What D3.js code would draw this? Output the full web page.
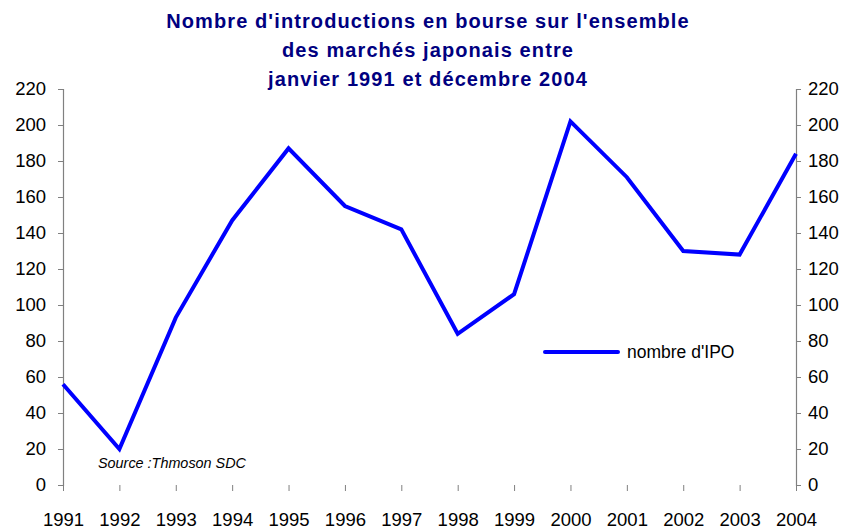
<!DOCTYPE html>
<html>
<head>
    <meta charset="utf-8">
    <title>Introductions en bourse - marchés japonais</title>
    <script src="https://d3js.org/d3.v7.min.js"></script>
</head>
<style>
    body {
        margin: 0;
        background: #fff;
    }

    text {
        font-family: "Liberation Sans", Arial, sans-serif;
    }
</style>
<body>
    <svg class='chart'></svg>
</body>
<script>
    // years on the x axis
    var YEARS = ["1991", "1992", "1993", "1994", "1995", "1996", "1997",
        "1998", "1999", "2000", "2001", "2002", "2003", "2004"
    ]
    // number of IPOs per year
    var IPOS = [56, 20, 93, 147, 187, 155, 142, 84, 106, 202, 171, 130, 128, 184]
    var Y_TICKS = [0, 20, 40, 60, 80, 100, 120, 140, 160, 180, 200, 220]
    var TITLE = ["Nombre d'introductions en bourse sur l'ensemble",
        "des marchés japonais entre",
        "janvier 1991 et décembre 2004"
    ]
    var SERIES_NAME = "nombre d'IPO"
    var SOURCE = "Source :Thmoson SDC"

    var width = 849
    var height = 529
    var margin = {
        top: 89,
        right: 53,
        bottom: 44,
        left: 63
    }

    var svg = d3.select('.chart')
        .attr('width', width)
        .attr('height', height)

    var x = d3.scalePoint()
        .domain(YEARS)
        .range([margin.left, width - margin.right])
    var y = d3.scaleLinear()
        .domain([0, 220])
        .range([height - margin.bottom, margin.top])

    // title
    svg.append('g')
        .selectAll('text')
        .data(TITLE)
        .enter()
        .append('text')
        .attr('x', 428)
        .attr('y', (d, i) => 28 + i * 29)
        .attr('text-anchor', 'middle')
        .style('font-size', '20px')
        .style('font-weight', 'bold')
        .style('letter-spacing', '1.1px')
        .style('fill', '#000080')
        .text(d => d)

    // left axis
    var yLeft = svg.append('g')
        .attr('transform', 'translate(' + margin.left + ',0)')
        .call(d3.axisLeft(y).tickValues(Y_TICKS).tickSize(5).tickPadding(12))
    // right axis
    var yRight = svg.append('g')
        .attr('transform', 'translate(' + (width - margin.right) + ',0)')
        .call(d3.axisRight(y).tickValues(Y_TICKS).tickSize(5).tickPadding(7))

    ;[yLeft, yRight].forEach(g => {
        g.select('.domain').attr('stroke', '#808080').attr('stroke-width', 1.2)
        g.selectAll('.tick line').attr('stroke', '#808080')
        g.selectAll('.tick text')
            .style('font-size', '18.5px')
            .style('fill', '#000')
            .style('font-family', '"Liberation Sans", Arial, sans-serif')
    })

    // x axis: ticks only, no baseline
    var xAxis = svg.append('g')
        .attr('transform', 'translate(0,' + (height - margin.bottom) + ')')
        .call(d3.axisBottom(x).tickSize(6).tickPadding(22))
    xAxis.select('.domain').remove()
    xAxis.selectAll('.tick line').attr('stroke', '#808080')
    xAxis.selectAll('.tick text')
        .style('font-size', '18.5px')
        .style('fill', '#000')
        .style('font-family', '"Liberation Sans", Arial, sans-serif')

    // series line
    var line = d3.line()
        .x((d, i) => x(YEARS[i]))
        .y(d => y(d))

    svg.append('path')
        .datum(IPOS)
        .attr('fill', 'none')
        .attr('stroke', '#0000ff')
        .attr('stroke-width', 4)
        .attr('stroke-linejoin', 'miter')
        .attr('d', line)

    // legend
    var legend = svg.append('g')
        .attr('transform', 'translate(545,352)')
    legend.append('line')
        .attr('x1', 0)
        .attr('x2', 73)
        .attr('stroke', '#0000ff')
        .attr('stroke-width', 4)
        .attr('stroke-linecap', 'round')
    legend.append('text')
        .attr('x', 82)
        .attr('y', 6)
        .style('font-size', '17.5px')
        .style('fill', '#000')
        .text(SERIES_NAME)

    // source note
    svg.append('text')
        .attr('x', 98)
        .attr('y', 468)
        .style('font-size', '14.4px')
        .style('font-style', 'italic')
        .style('fill', '#000')
        .text(SOURCE)
</script>
</html>
